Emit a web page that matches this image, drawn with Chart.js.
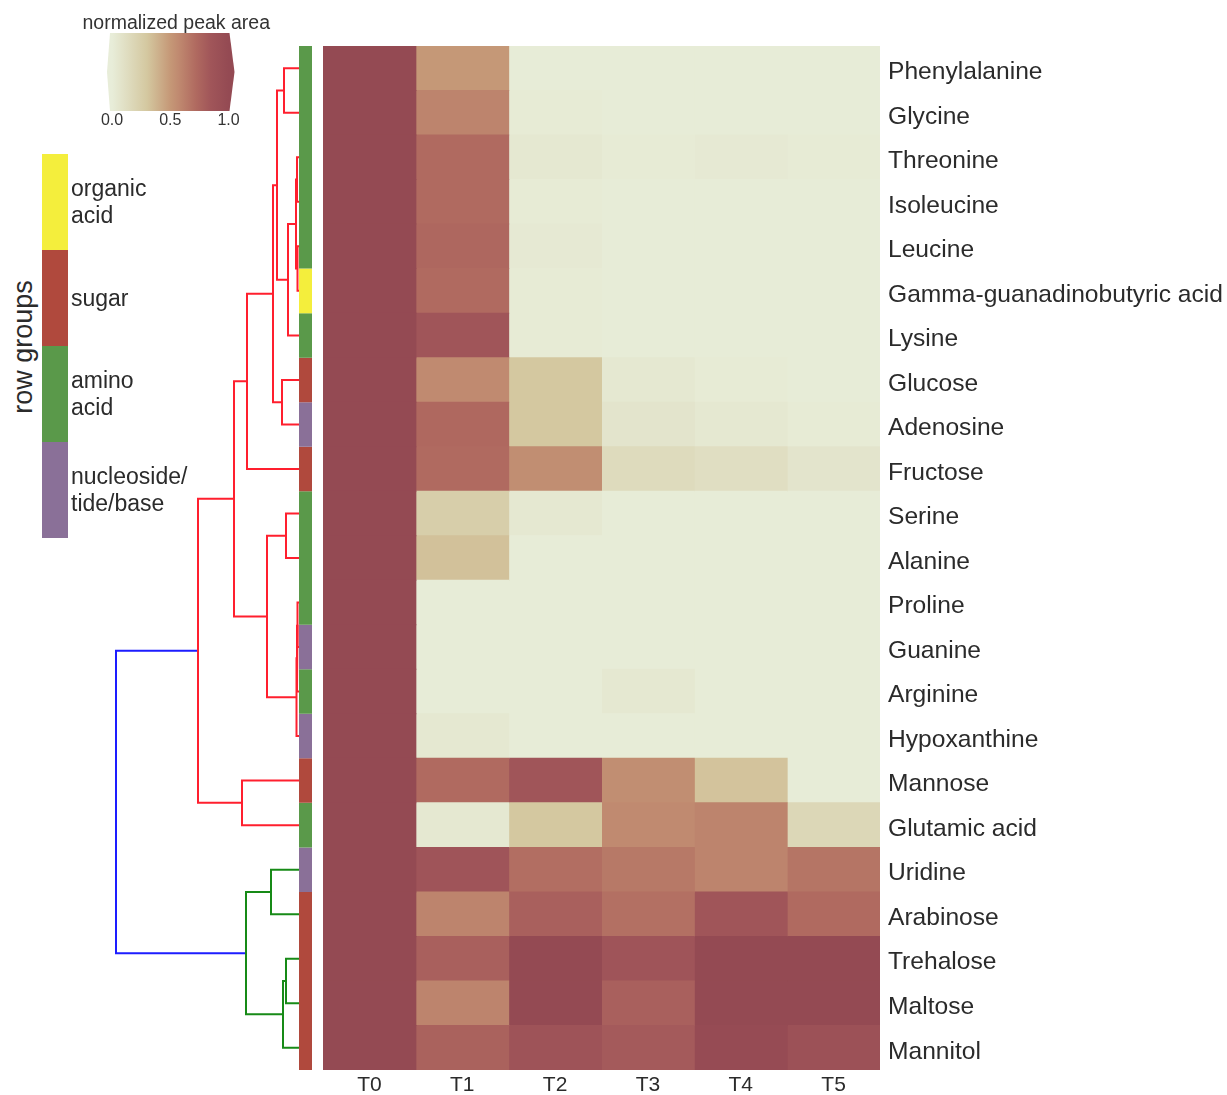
<!DOCTYPE html>
<html lang="en">
<head>
<meta charset="utf-8">
<title>Normalized peak area heatmap</title>
<script src="https://cdn.jsdelivr.net/npm/chart.js@4.4.1/dist/chart.umd.min.js"></script>
<style>
  html, body { margin: 0; padding: 0; background: #ffffff; }
  #figure { position: relative; width: 1227px; height: 1095px; overflow: hidden;
            font-family: "Liberation Sans", Arial, sans-serif; color: #2b2b2b; }
  #figure canvas { position: absolute; top: 0; }
  #dendrogram { left: 100px; }
  #heatmap { left: 300px; }
  #colorbar { left: 52px; }
  .group-swatch { position: absolute; left: 42px; width: 26px; }
  .group-label { position: absolute; left: 71px; width: 150px; font-size: 23px; line-height: 27px;
                 display: flex; align-items: center; white-space: pre-line; }
  #groupTitle { position: absolute; left: 23px; top: 347px; font-size: 27px; white-space: nowrap;
                transform: translate(-50%, -50%) rotate(-90deg); }
</style>
</head>
<body>
<div id="figure">
  <canvas id="dendrogram" width="215" height="1095"></canvas>
  <canvas id="heatmap" width="927" height="1095"></canvas>
  <canvas id="colorbar" width="248" height="140"></canvas>
  <div id="groupLegend"></div>
  <div id="groupTitle">row groups</div>
</div>
<script>
// rows in clustered order, top to bottom
const compounds = ['Phenylalanine', 'Glycine', 'Threonine', 'Isoleucine', 'Leucine',
  'Gamma-guanadinobutyric acid', 'Lysine', 'Glucose', 'Adenosine', 'Fructose', 'Serine',
  'Alanine', 'Proline', 'Guanine', 'Arginine', 'Hypoxanthine', 'Mannose', 'Glutamic acid',
  'Uridine', 'Arabinose', 'Trehalose', 'Maltose', 'Mannitol'];
const timeLabels = ['T0', 'T1', 'T2', 'T3', 'T4', 'T5'];

// normalized peak area per time point (same row order as compounds)
const t0 = [1.00, 1.00, 1.00, 1.00, 1.00, 1.00, 1.00, 1.00, 1.00, 1.00, 1.00, 1.00,
            1.00, 1.00, 1.00, 1.00, 1.00, 1.00, 1.00, 1.00, 1.00, 1.00, 1.00];
const t1 = [0.50, 0.60, 0.72, 0.72, 0.74, 0.72, 0.85, 0.57, 0.73, 0.72, 0.25, 0.33,
            0.01, 0.01, 0.01, 0.04, 0.72, 0.04, 0.86, 0.60, 0.78, 0.60, 0.77];
const t2 = [0.01, 0.02, 0.04, 0.02, 0.03, 0.02, 0.02, 0.30, 0.30, 0.55, 0.04, 0.01,
            0.01, 0.01, 0.01, 0.01, 0.85, 0.30, 0.70, 0.78, 1.00, 1.00, 0.88];
const t3 = [0.01, 0.01, 0.02, 0.01, 0.01, 0.01, 0.01, 0.04, 0.07, 0.15, 0.01, 0.01,
            0.01, 0.01, 0.04, 0.01, 0.55, 0.57, 0.65, 0.69, 0.86, 0.78, 0.82];
const t4 = [0.01, 0.01, 0.03, 0.01, 0.01, 0.01, 0.01, 0.02, 0.04, 0.12, 0.01, 0.01,
            0.01, 0.01, 0.01, 0.01, 0.32, 0.60, 0.60, 0.85, 1.00, 1.00, 0.98];
const t5 = [0.01, 0.01, 0.02, 0.01, 0.01, 0.01, 0.01, 0.01, 0.02, 0.07, 0.01, 0.01,
            0.01, 0.01, 0.01, 0.01, 0.01, 0.18, 0.67, 0.72, 1.00, 1.00, 0.90];
const valueColumns = [t0, t1, t2, t3, t4, t5];

// row groups
const groupNames = ['organic\nacid', 'sugar', 'amino\nacid', 'nucleoside/\ntide/base'];
const groupColors = ['#f4ee3c', '#b0493d', '#5a994a', '#8a7098'];
const rowGroups = [2, 2, 2, 2, 2, 0, 2, 1, 3, 1, 2, 2, 2, 3, 2, 3, 1, 2, 3, 1, 1, 1, 1];

// hierarchical clustering of the rows: [left, right, height]
// leaves are 0..22, each merge gets the next id (23, 24, ...)
const linkage = [
  [0, 1, 0.15],    // 23
  [2, 3, 0.02],    // 24
  [4, 5, 0.015],   // 25
  [24, 25, 0.03],  // 26
  [26, 6, 0.11],   // 27
  [23, 27, 0.22],  // 28
  [7, 8, 0.17],    // 29
  [28, 29, 0.26],  // 30
  [30, 9, 0.52],   // 31
  [10, 11, 0.13],  // 32
  [12, 13, 0.015], // 33
  [33, 14, 0.02],  // 34
  [34, 15, 0.025], // 35
  [32, 35, 0.32],  // 36
  [31, 36, 0.65],  // 37
  [16, 17, 0.57],  // 38
  [37, 38, 1.01],  // 39
  [18, 19, 0.28],  // 40
  [20, 21, 0.13],  // 41
  [41, 22, 0.16],  // 42
  [40, 42, 0.53],  // 43
  [39, 43, 1.83]   // 44
];
const linkClusters = ['a', 'a', 'a', 'a', 'a', 'a', 'a', 'a', 'a', 'a', 'a', 'a', 'a', 'a', 'a', 'a', 'a',
                      'b', 'b', 'b', 'b', 'root'];
const clusterColors = { a: '#ff1f2e', b: '#178a17', root: '#1d1dff' };

// colour map (value stops -> colour)
const colorStops = [0, 0.30, 0.50, 0.57, 0.72, 0.85, 1];
const stopColors = ['#e8edd9', '#d4c8a0', '#c59877', '#c08a70', '#b06a60', '#a05559', '#944a53'];

const fontFamily = '"Liberation Sans", Arial, sans-serif';
const textColor = '#2b2b2b';
Chart.defaults.font.family = fontFamily;
Chart.defaults.color = textColor;

function hexToRgb(hex) {
    const n = parseInt(hex.slice(1), 16);
    return [(n >> 16) & 255, (n >> 8) & 255, n & 255];
}

function colorFor(v) {
    let i = 1;
    while (i < colorStops.length - 1 && v > colorStops[i]) i++;
    const t = Math.min(1, Math.max(0, (v - colorStops[i - 1]) / (colorStops[i] - colorStops[i - 1])));
    const a = hexToRgb(stopColors[i - 1]);
    const b = hexToRgb(stopColors[i]);
    const c = a.map((ch, k) => Math.round(ch + (b[k] - ch) * t));
    return `rgb(${c[0]}, ${c[1]}, ${c[2]})`;
}

// ---- heatmap: one floating bar per cell ----
const heatDatasets = valueColumns.map((vals, j) => ({
    label: timeLabels[j],
    data: vals.map(() => [j - 0.5, j + 0.5]),
    backgroundColor: vals.map(colorFor),
    borderWidth: 0,
    inflateAmount: 0.5,
    barPercentage: 1,
    categoryPercentage: 1,
    grouped: false
}));

new Chart(document.getElementById('heatmap'), {
    type: 'bar',
    data: { labels: compounds, datasets: heatDatasets },
    options: {
        indexAxis: 'y',
        responsive: false,
        animation: false,
        layout: { padding: { left: 23, top: 46, right: 0, bottom: 0 } },
        plugins: { legend: { display: false }, tooltip: { enabled: false } },
        scales: {
            x: {
                type: 'linear',
                min: -0.5,
                max: 5.5,
                grid: { display: false, drawTicks: false },
                border: { display: false },
                afterBuildTicks: scale => { scale.ticks = timeLabels.map((_, i) => ({ value: i })); },
                afterFit: scale => { scale.height = 25; },
                ticks: {
                    callback: v => timeLabels[v],
                    font: { size: 21 },
                    color: textColor,
                    padding: 3,
                    maxRotation: 0,
                    autoSkip: false
                }
            },
            y: {
                position: 'right',
                grid: { display: false, drawTicks: false },
                border: { display: false },
                afterFit: scale => { scale.width = 347; },
                ticks: { font: { size: 24.6 }, color: textColor, padding: 8, labelOffset: 4, autoSkip: false }
            }
        }
    }
});

// ---- dendrogram + row group strip ----
const nodeY = compounds.map((_, i) => i);
const nodeH = compounds.map(() => 0);
const linkDatasets = linkage.map(([a, b, h], k) => {
    const ya = nodeY[a], yb = nodeY[b];
    const ds = {
        data: [{ x: nodeH[a], y: ya }, { x: h, y: ya }, { x: h, y: yb }, { x: nodeH[b], y: yb }],
        showLine: true,
        borderColor: clusterColors[linkClusters[k]],
        borderWidth: 2,
        borderJoinStyle: 'miter',
        pointRadius: 0,
        tension: 0,
        fill: false
    };
    nodeY.push((ya + yb) / 2);
    nodeH.push(h);
    return ds;
});

// consecutive rows of the same group form one strip segment
const stripX = -0.065;
const stripRuns = [];
rowGroups.forEach((g, i) => {
    const last = stripRuns[stripRuns.length - 1];
    if (last && last.group === g) last.end = i;
    else stripRuns.push({ group: g, start: i, end: i });
});
const stripDatasets = stripRuns.map(run => ({
    data: [{ x: stripX, y: run.start - 0.5 }, { x: stripX, y: run.end + 0.5 }],
    showLine: true,
    borderColor: groupColors[run.group],
    borderWidth: 13,
    borderCapStyle: 'butt',
    pointRadius: 0,
    fill: false
}));

new Chart(document.getElementById('dendrogram'), {
    type: 'scatter',
    data: { datasets: [...linkDatasets, ...stripDatasets] },
    options: {
        responsive: false,
        animation: false,
        layout: { padding: { left: 6, right: 3, top: 46, bottom: 25 } },
        plugins: { legend: { display: false }, tooltip: { enabled: false } },
        scales: {
            x: { type: 'linear', reverse: true, min: -0.13, max: 1.93, display: false },
            y: { type: 'linear', reverse: true, min: -0.5, max: 22.5, display: false }
        }
    }
});

// ---- colour bar ----
const colorbarBody = {
    id: 'colorbarBody',
    afterDraw(chart) {
        const { ctx, chartArea: { top, bottom } } = chart;
        const xs = chart.scales.x;
        const x0 = xs.getPixelForValue(0);
        const x1 = xs.getPixelForValue(1);
        const mid = (top + bottom) / 2;
        const grad = ctx.createLinearGradient(x0, 0, x1, 0);
        colorStops.forEach((s, i) => grad.addColorStop(s, stopColors[i]));
        ctx.save();
        ctx.beginPath();
        ctx.moveTo(x0 - 2, top);
        ctx.lineTo(x1 + 1, top);
        ctx.lineTo(x1 + 6, mid);
        ctx.lineTo(x1 + 1, bottom);
        ctx.lineTo(x0 - 2, bottom);
        ctx.lineTo(x0 - 5, mid);
        ctx.closePath();
        ctx.fillStyle = grad;
        ctx.fill();
        ctx.fillStyle = '#333333';
        ctx.font = '19.5px ' + fontFamily;
        ctx.textAlign = 'center';
        ctx.textBaseline = 'middle';
        ctx.fillText('normalized peak area', (x0 + x1) / 2 + 6, top - 9);
        ctx.restore();
    }
};

new Chart(document.getElementById('colorbar'), {
    type: 'scatter',
    data: { datasets: [] },
    options: {
        responsive: false,
        animation: false,
        layout: { padding: { left: 60, right: 71.5, top: 33, bottom: 0 } },
        plugins: { legend: { display: false }, tooltip: { enabled: false } },
        scales: {
            x: {
                type: 'linear',
                min: 0,
                max: 1,
                grid: { display: false, drawTicks: false },
                border: { display: false },
                afterFit: scale => { scale.height = 29; },
                ticks: { stepSize: 0.5, callback: v => v.toFixed(1), font: { size: 16 }, color: '#333333', padding: 0 }
            },
            y: { display: false, min: 0, max: 1 }
        }
    },
    plugins: [colorbarBody]
});

// ---- row group legend ----
const legendBox = document.getElementById('groupLegend');
groupNames.forEach((name, k) => {
    const top = 154 + k * 96;
    const sw = document.createElement('div');
    sw.className = 'group-swatch';
    sw.style.top = top + 'px';
    sw.style.height = '96px';
    sw.style.background = groupColors[k];
    legendBox.appendChild(sw);
    const lab = document.createElement('div');
    lab.className = 'group-label';
    lab.style.top = top + 'px';
    lab.style.height = '96px';
    lab.textContent = name;
    legendBox.appendChild(lab);
});
</script>
</body>
</html>
